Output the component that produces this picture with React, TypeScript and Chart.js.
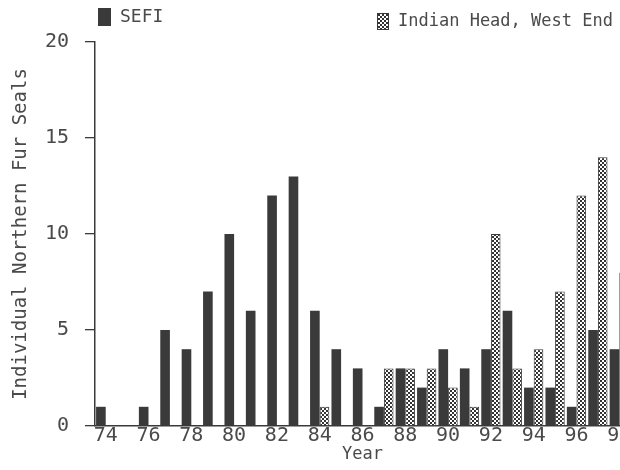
import React, { useEffect, useRef } from "react";
import { Chart, registerables } from "chart.js";

Chart.register(...registerables);

const years = ["74","75","76","77","78","79","80","81","82","83","84","85","86","87","88","89","90","91","92","93","94","95","96","97","98"];
const sefi = [1,0,1,5,4,7,10,6,12,13,6,4,3,1,3,2,4,3,4,6,2,2,1,5,4];
const indianHead = [0,0,0,0,0,0,0,0,0,0,1,0,0,3,3,3,2,1,10,3,4,7,12,14,8];
const yTicks = [0, 5, 10, 15, 20];
const seriesNames = ["SEFI", "Indian Head, West End"];

const INK = "#3a3a3a";
const TEXT = "#4a4a4a";
const FONT = "'DejaVu Sans Mono', monospace";

function makePattern(): CanvasPattern | string {
  const c = document.createElement("canvas");
  c.width = 4;
  c.height = 4;
  const g = c.getContext("2d");
  if (!g) return "#999";
  g.fillStyle = "#ffffff";
  g.fillRect(0, 0, 4, 4);
  g.fillStyle = "#333333";
  g.fillRect(0, 0, 2, 2);
  g.fillRect(2, 2, 2, 2);
  const p = g.createPattern(c, "repeat");
  return p || "#999";
}

export default function App() {
  const ref = useRef<HTMLCanvasElement | null>(null);

  useEffect(() => {
    const canvas = ref.current;
    if (!canvas) return;
    const pattern = makePattern();

    const legendPlugin = {
      id: "customLegend",
      afterDraw(chart: any) {
        const ctx = chart.ctx;
        ctx.save();
        ctx.font = `18px ${FONT}`;
        ctx.textBaseline = "middle";
        ctx.textAlign = "left";
        // SEFI
        ctx.fillStyle = INK;
        ctx.fillRect(98, 8, 13, 18);
        ctx.fillStyle = TEXT;
        ctx.fillText(seriesNames[0], 120, 17);
        // Indian Head
        ctx.font = `17px ${FONT}`;
        ctx.fillStyle = pattern as any;
        ctx.fillRect(377, 13, 12, 17);
        ctx.strokeStyle = INK;
        ctx.lineWidth = 1;
        ctx.strokeRect(377.5, 13.5, 11, 16);
        ctx.fillStyle = TEXT;
        ctx.fillText(seriesNames[1], 398, 22);
        ctx.restore();
      },
    };

    const chart = new Chart(canvas, {
      type: "bar",
      data: {
        labels: years,
        datasets: [
          {
            label: seriesNames[0],
            data: sefi,
            backgroundColor: INK,
            borderColor: INK,
            borderWidth: 0,
            categoryPercentage: 0.9,
            barPercentage: 1.0,
          },
          {
            label: seriesNames[1],
            data: indianHead,
            backgroundColor: pattern as any,
            borderColor: INK,
            borderWidth: 1,
            borderSkipped: "bottom",
            categoryPercentage: 0.9,
            barPercentage: 1.0,
          },
        ],
      },
      options: {
        responsive: false,
        animation: false,
        layout: { padding: { top: 42, right: 10, left: 0, bottom: 0 } },
        plugins: {
          legend: { display: false },
          tooltip: { enabled: false },
        },
        scales: {
          x: {
            type: "category",
            offset: true,
            grid: { drawOnChartArea: false, drawTicks: false },
            border: { display: true, color: INK, width: 1.5 },
            ticks: {
              autoSkip: false,
              maxRotation: 0,
              padding: -2,
              color: TEXT,
              font: { family: FONT, size: 20 },
              callback: function (this: any, val: any) {
                const lab = this.getLabelForValue(val);
                return Number(lab) % 2 === 0 ? lab : "";
              },
            },
            title: {
              display: true,
              text: "Year",
              color: TEXT,
              font: { family: FONT, size: 17 },
              padding: { top: 0, bottom: 5 },
            },
            afterFit: (s: any) => {
              s.height = 44;
            },
          },
          y: {
            min: 0,
            max: 20,
            afterBuildTicks: (s: any) => {
              s.ticks = yTicks.map((v) => ({ value: v }));
            },
            grid: {
              drawOnChartArea: false,
              drawTicks: true,
              tickLength: 10,
              color: INK,
              lineWidth: 1.3,
            },
            border: { display: true, color: INK, width: 1.5 },
            ticks: {
              padding: 16,
              color: TEXT,
              font: { family: FONT, size: 20 },
            },
            title: {
              display: true,
              text: "Individual Northern Fur Seals",
              color: TEXT,
              font: { family: FONT, size: 19 },
              padding: { top: 10, bottom: 0 },
            },
            afterFit: (s: any) => {
              s.width = 95;
            },
          },
        },
      },
      plugins: [legendPlugin],
    });

    return () => {
      chart.destroy();
    };
  }, []);

  return (
    <div
      style={{
        position: "fixed",
        left: 0,
        top: 0,
        width: 620,
        height: 470,
        overflow: "hidden",
        background: "#fff",
      }}
    >
      <canvas ref={ref} width={640} height={470} style={{ width: 640, height: 470, display: "block" }} />
    </div>
  );
}
